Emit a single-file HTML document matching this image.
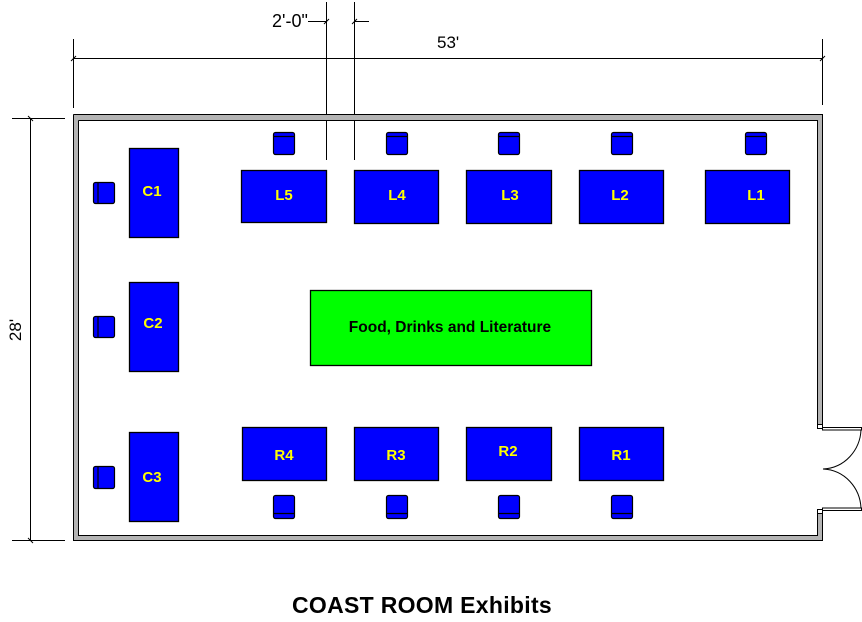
<!DOCTYPE html>
<html>
<head>
<meta charset="utf-8">
<style>
  html, body { margin:0; padding:0; background:#fff; }
  body { width:862px; height:622px; overflow:hidden; }
  svg { display:block; }
  text { font-family: "Liberation Sans", Arial, sans-serif; }
  .lbl { fill:#ffff00; font-weight:bold; font-size:15px; }
  .tbl { fill:#0000ff; stroke:#000; stroke-width:1.3; }
  .ch { fill:#0000ff; stroke:#000; stroke-width:1.2; }
</style>
</head>
<body>
<svg width="862" height="622" viewBox="0 0 862 622" xmlns="http://www.w3.org/2000/svg">
  <!-- Dimension lines -->
  <g stroke="#000" stroke-width="1" fill="none">
    <!-- 53' -->
    <line x1="73" y1="58.5" x2="823" y2="58.5"/>
    <line x1="73.5" y1="39" x2="73.5" y2="108"/>
    <line x1="822.5" y1="39" x2="822.5" y2="105"/>
    <line x1="71" y1="61" x2="76" y2="56"/>
    <line x1="820" y1="61" x2="825" y2="56"/>
    <!-- 2'-0" -->
    <line x1="326.5" y1="2" x2="326.5" y2="160"/>
    <line x1="354.5" y1="2" x2="354.5" y2="160"/>
    <line x1="308" y1="21.5" x2="327" y2="21.5"/>
    <line x1="354" y1="21.5" x2="369" y2="21.5"/>
    <line x1="324" y1="24" x2="329" y2="19"/>
    <line x1="352" y1="24" x2="357" y2="19"/>
    <!-- 28' -->
    <line x1="30.5" y1="118" x2="30.5" y2="541"/>
    <line x1="12" y1="118.5" x2="65" y2="118.5"/>
    <line x1="12" y1="540.5" x2="65" y2="540.5"/>
    <line x1="28" y1="116" x2="33" y2="121"/>
    <line x1="28" y1="538" x2="33" y2="543"/>
  </g>
  <text x="272" y="27" font-size="18">2'-0"</text>
  <text x="437" y="48" font-size="17">53'</text>
  <text x="0" y="0" font-size="17" text-anchor="middle" transform="translate(21,330) rotate(-90)">28'</text>

  <!-- Walls -->
  <g shape-rendering="crispEdges">
    <!-- top -->
    <rect x="73" y="114" width="750" height="6" fill="#b4b4b4"/>
    <!-- left -->
    <rect x="73" y="114" width="6" height="427" fill="#b4b4b4"/>
    <!-- bottom -->
    <rect x="73" y="535" width="750" height="6" fill="#b4b4b4"/>
    <!-- right upper -->
    <rect x="817" y="114" width="6" height="310" fill="#b4b4b4"/>
    <!-- right lower -->
    <rect x="817" y="513" width="6" height="28" fill="#b4b4b4"/>
  </g>
  <g stroke="#000" stroke-width="1" fill="none" shape-rendering="crispEdges">
    <!-- outer -->
    <path d="M73.5,114.5 H822.5 V424"/>
    <path d="M822.5,513 V540.5 H73.5 V114.5"/>
    <!-- inner -->
    <path d="M78.5,120.5 H817.5 V424"/>
    <path d="M817.5,513 V535.5 H78.5 V120.5"/>
  </g>

  <!-- Door -->
  <g stroke="#000" stroke-width="1" fill="#fff">
    <rect x="817.5" y="424.5" width="5" height="4"/>
    <rect x="817.5" y="509.5" width="5" height="4"/>
    <rect x="822.5" y="427.5" width="39" height="2.5"/>
    <rect x="822.5" y="508" width="39" height="2.5"/>
    <path d="M861,430 C860,450 845,468 823,469" fill="none"/>
    <path d="M861,508 C860,488 845,470 823,469" fill="none"/>
  </g>

  <!-- Left tables -->
  <rect class="tbl" x="129.5" y="148.5" width="49" height="89"/>
  <rect class="tbl" x="129.5" y="282.5" width="49" height="89"/>
  <rect class="tbl" x="129.5" y="432.5" width="49" height="89"/>
  <text class="lbl" x="152" y="196" text-anchor="middle">C1</text>
  <text class="lbl" x="153" y="328" text-anchor="middle">C2</text>
  <text class="lbl" x="152" y="482" text-anchor="middle">C3</text>

  <!-- Left chairs -->
  <g>
    <rect class="ch" x="93.5" y="182.5" width="21" height="21" rx="2"/>
    <line x1="98" y1="183" x2="98" y2="203" stroke="#000" stroke-width="1.2"/>
    <rect class="ch" x="93.5" y="316.5" width="21" height="21" rx="2"/>
    <line x1="98" y1="317" x2="98" y2="337" stroke="#000" stroke-width="1.2"/>
    <rect class="ch" x="93.5" y="466.5" width="21" height="22" rx="2"/>
    <line x1="98" y1="467" x2="98" y2="488" stroke="#000" stroke-width="1.2"/>
  </g>

  <!-- Top tables -->
  <rect class="tbl" x="241.5" y="170.5" width="85" height="52"/>
  <rect class="tbl" x="354.5" y="170.5" width="84" height="53"/>
  <rect class="tbl" x="466.5" y="170.5" width="85" height="53"/>
  <rect class="tbl" x="579.5" y="170.5" width="84" height="53"/>
  <rect class="tbl" x="705.5" y="170.5" width="84" height="53"/>
  <text class="lbl" x="284" y="200" text-anchor="middle">L5</text>
  <text class="lbl" x="397" y="200" text-anchor="middle">L4</text>
  <text class="lbl" x="510" y="200" text-anchor="middle">L3</text>
  <text class="lbl" x="620" y="200" text-anchor="middle">L2</text>
  <text class="lbl" x="756" y="200" text-anchor="middle">L1</text>

  <!-- Top chairs -->
  <g>
    <rect class="ch" x="273.5" y="132.5" width="21" height="22" rx="2"/>
    <line x1="274" y1="136.5" x2="294" y2="136.5" stroke="#000" stroke-width="1.2"/>
    <rect class="ch" x="386.5" y="132.5" width="21" height="22" rx="2"/>
    <line x1="387" y1="136.5" x2="407" y2="136.5" stroke="#000" stroke-width="1.2"/>
    <rect class="ch" x="498.5" y="132.5" width="21" height="22" rx="2"/>
    <line x1="499" y1="136.5" x2="519" y2="136.5" stroke="#000" stroke-width="1.2"/>
    <rect class="ch" x="611.5" y="132.5" width="21" height="22" rx="2"/>
    <line x1="612" y1="136.5" x2="632" y2="136.5" stroke="#000" stroke-width="1.2"/>
    <rect class="ch" x="745.5" y="132.5" width="21" height="22" rx="2"/>
    <line x1="746" y1="136.5" x2="766" y2="136.5" stroke="#000" stroke-width="1.2"/>
  </g>

  <!-- Green table -->
  <rect x="310.5" y="290.5" width="281" height="75" fill="#00ff00" stroke="#000" stroke-width="1.3"/>
  <text x="450" y="332" font-size="15.5" font-weight="bold" text-anchor="middle" fill="#000">Food, Drinks and Literature</text>

  <!-- Bottom tables -->
  <rect class="tbl" x="242.5" y="427.5" width="84" height="53"/>
  <rect class="tbl" x="354.5" y="427.5" width="84" height="53"/>
  <rect class="tbl" x="466.5" y="427.5" width="85" height="53"/>
  <rect class="tbl" x="579.5" y="427.5" width="84" height="53"/>
  <text class="lbl" x="284" y="460" text-anchor="middle">R4</text>
  <text class="lbl" x="396" y="460" text-anchor="middle">R3</text>
  <text class="lbl" x="508" y="456" text-anchor="middle">R2</text>
  <text class="lbl" x="621" y="460" text-anchor="middle">R1</text>

  <!-- Bottom chairs -->
  <g>
    <rect class="ch" x="273.5" y="495.5" width="21" height="23" rx="2"/>
    <line x1="274" y1="513.5" x2="294" y2="513.5" stroke="#000" stroke-width="1.2"/>
    <rect class="ch" x="386.5" y="495.5" width="21" height="23" rx="2"/>
    <line x1="387" y1="513.5" x2="407" y2="513.5" stroke="#000" stroke-width="1.2"/>
    <rect class="ch" x="498.5" y="495.5" width="21" height="23" rx="2"/>
    <line x1="499" y1="513.5" x2="519" y2="513.5" stroke="#000" stroke-width="1.2"/>
    <rect class="ch" x="611.5" y="495.5" width="21" height="23" rx="2"/>
    <line x1="612" y1="513.5" x2="632" y2="513.5" stroke="#000" stroke-width="1.2"/>
  </g>

  <!-- Title -->
  <text x="422" y="613" font-size="23" font-weight="bold" text-anchor="middle" fill="#000" letter-spacing="0.3">COAST ROOM Exhibits</text>
</svg>
</body>
</html>
